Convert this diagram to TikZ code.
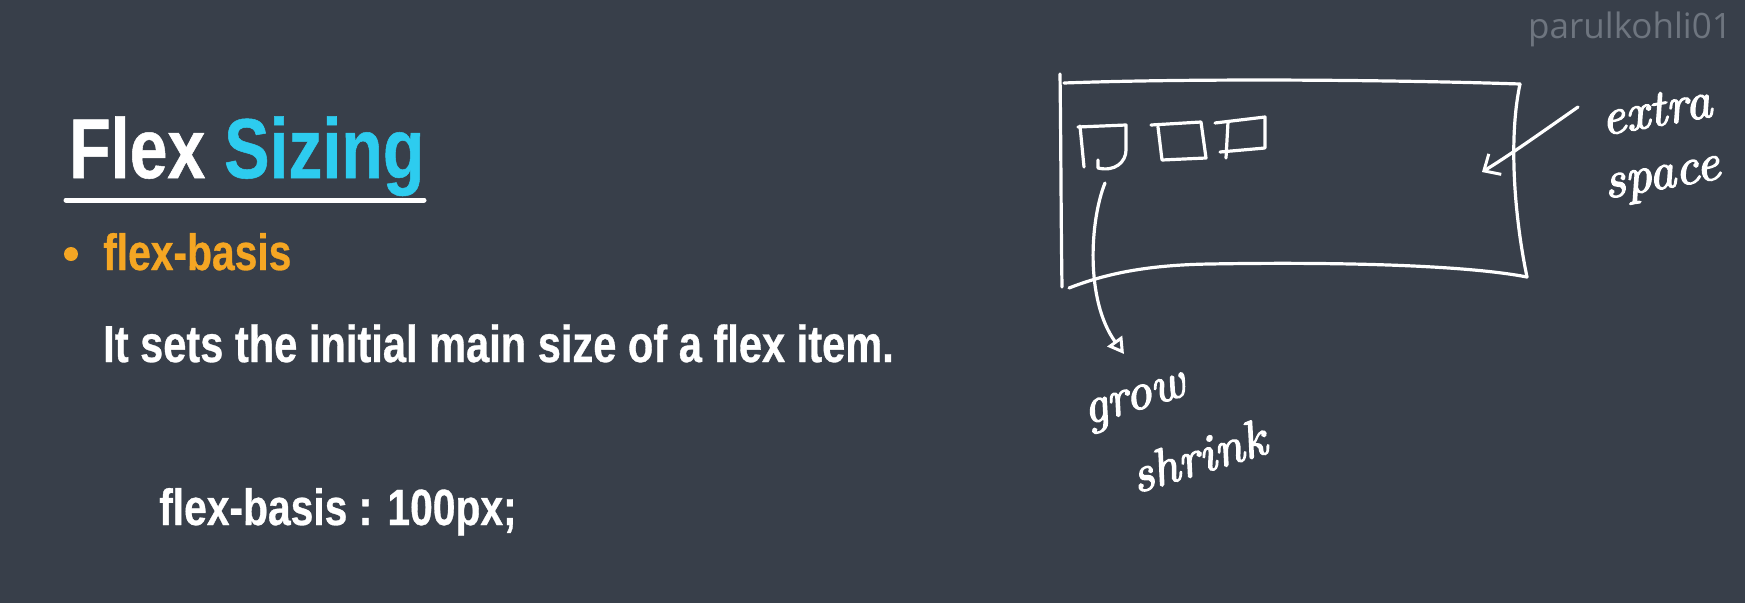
\documentclass[tikz,border=0pt]{standalone}
\usepackage{fontspec}
\newfontfamily\slidefont[FakeStretch=0.8,FakeBold=0.6]{Liberation Sans}
\newfontfamily\wmfont{Open Sans}
\newfontfamily\handfont[FakeBold=2.5]{lmroman10-italic.otf}
\usetikzlibrary{arrows.meta}
\definecolor{bg}{HTML}{383F4A}
\definecolor{cyanT}{HTML}{2DCCEF}
\definecolor{orangeT}{HTML}{F5A623}
\definecolor{wmgray}{HTML}{6E757F}
\begin{document}
\begin{tikzpicture}[x=1pt,y=-1pt,
  sk/.style={draw=white,line width=3.2pt,line cap=round,line join=round},
  slide/.style={inner sep=0pt,anchor=base west,text=white,font=\slidefont\bfseries\fontsize{51}{60}\selectfont},
  hand/.style={inner sep=0pt,text=white,font=\handfont\fontsize{52}{60}\selectfont}]
\fill[bg] (0,0) rectangle (1745,603);
\useasboundingbox (0,0) rectangle (1745,603);

% watermark
\node[inner sep=0pt,anchor=base west,text=wmgray,font=\wmfont\fontsize{35}{40}\selectfont] (wm) at (1528,38) {parulkohli01};

% title
\node[slide,font=\slidefont\bfseries\fontsize{85}{100}\selectfont] (title) at (69,178) {Flex \textcolor{cyanT}{Sizing}};
\coordinate (ul1) at (66,200);
\coordinate (ul2) at (424,200);
\draw[white,line width=5pt,line cap=round] (ul1) -- (ul2);

% bullet
\node[circle,fill=orangeT,minimum size=14pt,inner sep=0pt] (dot) at (71,254) {};
\node[slide,text=orangeT] (fb) at (103,270) {flex-basis};
\node[slide,font=\slidefont\bfseries\fontsize{52}{60}\selectfont] (desc) at (103,362) {It sets the initial main size of a flex item.};
\node[slide] (code) at (159,525) {flex-basis : 100px;};

% sketch: container
\draw[sk] (1060,74) .. controls (1061,150) and (1061,220) .. (1062,287);
\draw[sk] (1064,83) .. controls (1200,78) and (1400,80) .. (1520,84);
\draw[sk] (1520,84) .. controls (1508,140) and (1515,220) .. (1527,277);
\draw[sk] (1069,288) .. controls (1100,276) and (1140,265) .. (1210,264) .. controls (1320,262) and (1460,264) .. (1527,277);

% items
\draw[sk] (1078,127) -- (1126,125) -- (1126,150) .. controls (1126,162) and (1115,172) .. (1098,168) -- (1098,160);
\draw[sk] (1080,126) -- (1084,167);
\draw[sk] (1151,125) -- (1201,122) -- (1206,158) -- (1162,160) -- (1158,127);
\draw[sk] (1215,123) -- (1265,117) -- (1265,148) -- (1220,152);
\draw[sk] (1228,122) -- (1226,158);

% arrows
\coordinate (b1) at (1105,183);
\coordinate (g1) at (1124,354);
\draw[sk,-{Triangle[open,length=16pt,width=18pt,line width=3pt]}] (b1) .. controls (1090,220) and (1085,300) .. (g1);
\coordinate (e1) at (1578,107);
\coordinate (e2) at (1482,172);
\draw[sk,-{Straight Barb[length=13pt,width=24pt,line width=3pt]}] (e1) .. controls (1545,130) and (1510,155) .. (e2);

% handwritten labels
\node[hand,rotate=17] (grow) at (1136,404) {grow};
\node[hand,rotate=17] (shrink) at (1198,456) {shrink};
\node[hand,rotate=10] (extra) at (1656,110) {extra};
\node[hand,rotate=10] (space) at (1663,182) {space};
\end{tikzpicture}
\end{document}
